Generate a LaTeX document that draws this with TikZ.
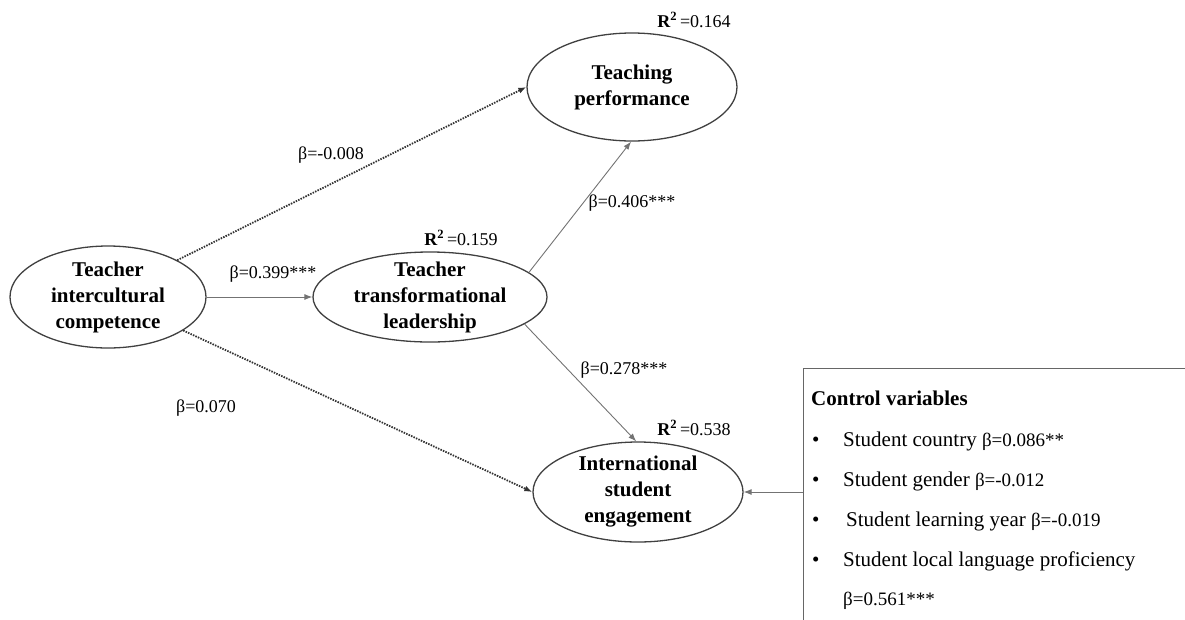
\documentclass[tikz,border=0pt]{standalone}
\usepackage{fontspec}
\setmainfont{Liberation Serif}
\usetikzlibrary{shapes.geometric,arrows.meta}
\tikzstyle{latent} = [ellipse, draw=black!75, line width=1.3pt, inner xsep=0pt, inner ysep=-12pt, align=center, font=\fontsize{21}{26}\selectfont\bfseries]
\tikzstyle{coef} = [font=\fontsize{18}{20}\selectfont, inner sep=0pt]
\tikzstyle{sig} = [-{Latex[length=8pt,width=6pt]}, draw=black!55, line width=0.9pt]
\tikzstyle{nonsig} = [-{Latex[length=8pt,width=6pt]}, draw=black!80, line width=1.8pt, dash pattern=on 1.5pt off 1.2pt]
\tikzstyle{box} = [draw=black!60, line width=1.2pt, inner sep=0pt]
\tikzstyle{ctrl} = [anchor=base west, inner sep=0pt, font=\fontsize{21}{24}\selectfont]
\newcommand\bval[1]{{\fontsize{19}{24}\selectfont #1}}

\begin{document}
\begin{tikzpicture}[x=1pt,y=-1pt]
	  \clip (0,0) rectangle (1185,619);
	  \node (a) at (108,297) [latent, minimum width=196pt, minimum height=102pt] {Teacher\\intercultural\\competence};
	  \node (b) at (430,297) [latent, minimum width=234pt, minimum height=90pt] {Teacher\\transformational\\leadership};
	  \node (c) at (632,87) [latent, minimum width=210pt, minimum height=108pt] {Teaching\\performance};
	  \node (d) at (638,492) [latent, minimum width=210pt, minimum height=100pt] {International\\student\\engagement};

	  \node (rc) at (694,20) [coef] {\textbf{R\textsuperscript{2}}\,=0.164};
	  \node (rb) at (461,238) [coef] {\textbf{R\textsuperscript{2}}\,=0.159};
	  \node (rd) at (694,428) [coef] {\textbf{R\textsuperscript{2}}\,=0.538};

	  \node (ac) at (331,155) [coef] {β=-0.008};
	  \node (ab) at (273,274) [coef] {β=0.399***};
	  \node (bc) at (632,203) [coef] {β=0.406***};
	  \node (bd) at (624,370) [coef] {β=0.278***};
	  \node (ad) at (206,408) [coef] {β=0.070};

	  \node (k) at (803,368) [box, anchor=north west, minimum width=500pt, minimum height=400pt] {};
	  \node (k0) at (811,405) [ctrl, font=\fontsize{21}{24}\selectfont\bfseries] {Control variables};
	  \node (p1) at (812,446) [ctrl] {•};
	  \node (p2) at (812,486) [ctrl] {•};
	  \node (p3) at (812,526) [ctrl] {•};
	  \node (p4) at (812,566) [ctrl] {•};
	  \node (k1) at (843,446) [ctrl] {Student country \bval{β=0.086**}};
	  \node (k2) at (843,486) [ctrl] {Student gender \bval{β=-0.012}};
	  \node (k3) at (846,526) [ctrl] {Student learning year \bval{β=-0.019}};
	  \node (k4) at (843,566) [ctrl] {Student local language proficiency};
	  \node (k5) at (843,605) [ctrl] {\bval{β=0.561***}};

	  \draw [nonsig] (a.28) to (c.west);
	  \draw [nonsig] (a.-24) to (d.west);
	  \draw [sig] (a.east) to (b.west);
	  \draw [sig] (b.14) to (c.-91);
	  \draw [sig] (b.-16) to (d.92);
	  \draw [sig] (k.west |- d.east) to (d.east);
	\end{tikzpicture}
\end{document}
